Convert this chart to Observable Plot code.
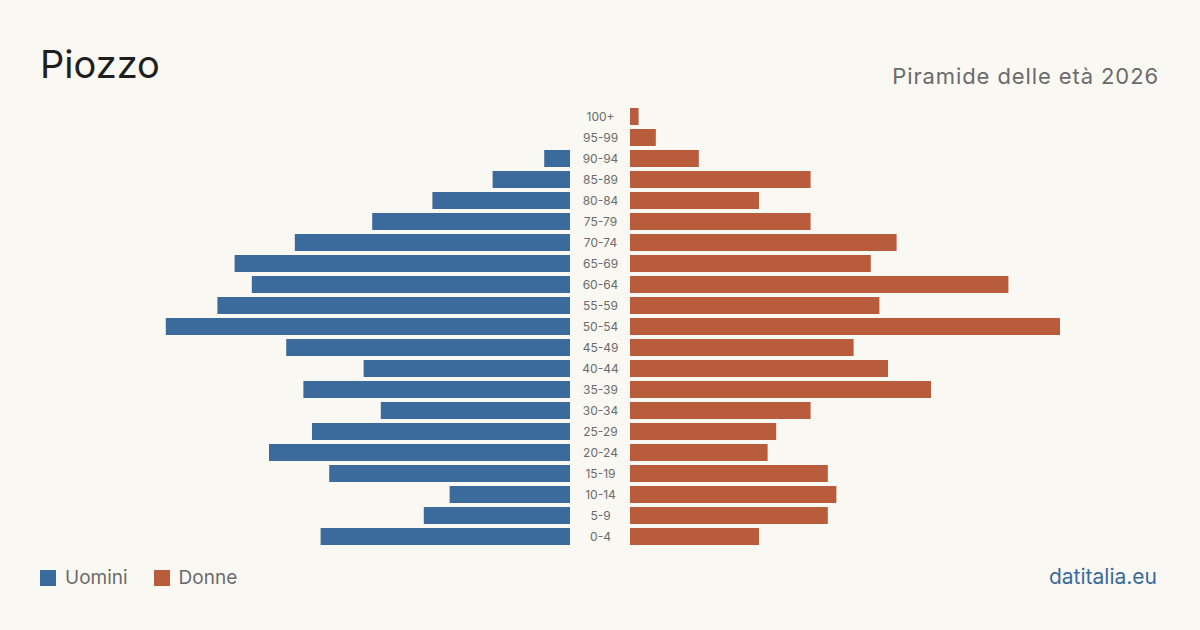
<!DOCTYPE html>
<html>
<head>
<meta charset="utf-8">
<script src="https://cdn.jsdelivr.net/npm/d3@7"></script>
<script src="https://cdn.jsdelivr.net/npm/@observablehq/plot@0.6"></script>
<style>
  html, body { margin: 0; padding: 0; background: #faf8f3; }
  #page { position: relative; width: 1200px; height: 630px; background: #faf8f3; font-family: Inter, "Noto Sans", sans-serif; overflow: hidden; }
  #title { position: absolute; left: 40px; top: 45px; font-size: 38px; color: #1f1f1f; line-height: 1; letter-spacing: 0px; }
  #subtitle { position: absolute; right: 41px; top: 65px; font-size: 22px; color: #6b6b6b; line-height: 1; letter-spacing: 0.9px; }
  #chart { position: absolute; left: 0; top: 100px; }
  #legend { position: absolute; left: 40px; top: 566px; display: flex; align-items: center; font-size: 19px; color: #6b6b6b; }
  #legend .sw { width: 16px; height: 16px; display: inline-block; margin-right: 9px; }
  #legend .item { display: flex; align-items: center; margin-right: 26px; }
  #source { position: absolute; right: 43px; top: 564px; font-size: 21px; color: #3b6b9c; }
</style>
</head>
<body>
<div id="page">
  <div id="title">Piozzo</div>
  <div id="subtitle">Piramide delle età 2026</div>
  <div id="chart"></div>
  <div id="legend"></div>
  <div id="source">datitalia.eu</div>
</div>
<script>
const ageGroups = ["100+","95-99","90-94","85-89","80-84","75-79","70-74","65-69","60-64","55-59","50-54","45-49","40-44","35-39","30-34","25-29","20-24","15-19","10-14","5-9","0-4"];
const men   = [0, 0, 3, 9, 16, 23, 32, 39, 37, 41, 47, 33, 24, 31, 22, 30, 35, 28, 14, 17, 29];
const women = [1, 3, 8, 21, 15, 21, 31, 28, 44, 29, 50, 26, 30, 35, 21, 17, 16, 23, 24, 23, 15];
const seriesNames = ["Uomini", "Donne"];
const seriesColors = ["#3b6b9c", "#b95c3c"];

const maxVal = 50;
const gap = 30 / 8.6; // half-width of the label column, in data units

const rows = ageGroups.map((age, i) => ({age, men: men[i], women: women[i]}));

const chart = Plot.plot({
  width: 1200,
  height: 450,
  marginLeft: 140,
  marginRight: 140,
  marginTop: 4,
  marginBottom: 1,
  style: {background: "transparent", fontFamily: "Inter, 'Noto Sans', sans-serif"},
  x: {domain: [-(maxVal + gap), maxVal + gap], axis: null},
  y: {domain: ageGroups, padding: 0.19, axis: null},
  marks: [
    Plot.barX(rows.filter(d => d.men > 0), {y: "age", x1: -gap, x2: d => -gap - d.men, fill: seriesColors[0]}),
    Plot.barX(rows.filter(d => d.women > 0), {y: "age", x1: gap, x2: d => gap + d.women, fill: seriesColors[1]}),
    Plot.text(rows, {y: "age", x: 0, text: "age", fill: "#6b6b6b", fontSize: 12, textAnchor: "middle"})
  ]
});
document.getElementById("chart").appendChild(chart);

const legend = document.getElementById("legend");
seriesNames.forEach((name, i) => {
  const item = document.createElement("div");
  item.className = "item";
  const sw = document.createElement("span");
  sw.className = "sw";
  sw.style.background = seriesColors[i];
  item.appendChild(sw);
  item.appendChild(document.createTextNode(name));
  legend.appendChild(item);
});
</script>
</body>
</html>
